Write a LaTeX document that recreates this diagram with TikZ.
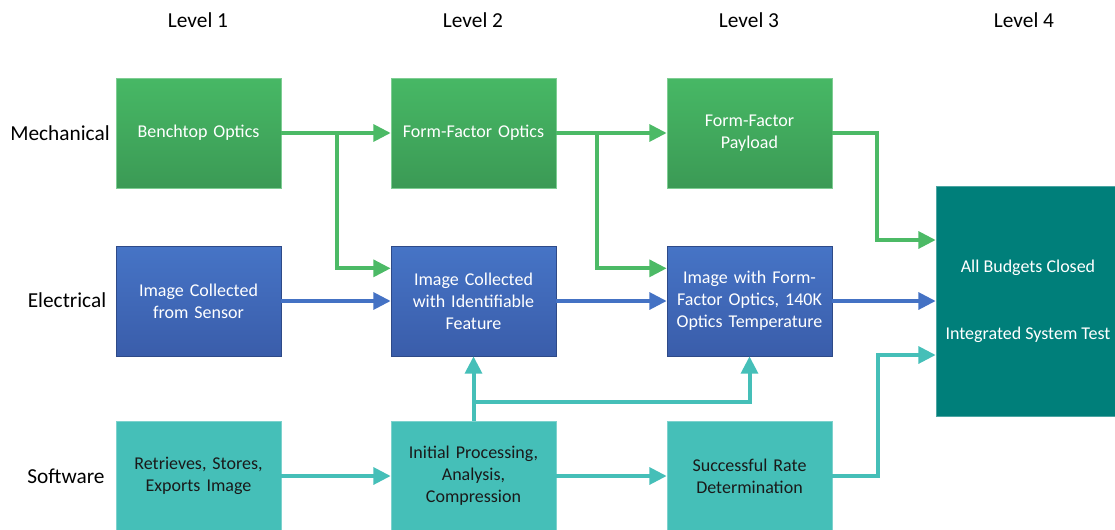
\documentclass[tikz,border=0pt]{standalone}
\usepackage{fontspec}
\setmainfont{Carlito}
\usetikzlibrary{arrows.meta}

\definecolor{mechtop}{HTML}{47B865}
\definecolor{mechbot}{HTML}{3B9A55}
\definecolor{electop}{HTML}{4674C6}
\definecolor{elecbot}{HTML}{3A5DAA}
\definecolor{softfill}{HTML}{45BFB8}
\definecolor{sysfill}{HTML}{007F7A}
\definecolor{mechline}{HTML}{4CBA66}
\definecolor{elecline}{HTML}{4472C4}
\definecolor{softline}{HTML}{45BFB8}
\definecolor{labeltext}{HTML}{1A1A1A}

\begin{document}
\begin{tikzpicture}[x=0.75pt,y=-0.75pt,
            every node/.style={align=center,font=\fontsize{13.5}{16.5}\selectfont},
            rowlabel/.style={font=\fontsize{16}{19}\selectfont,text=black},
            box/.style={minimum width=123.75pt,minimum height=82.5pt,inner sep=2pt,text width=118pt},
            mech/.style={box,top color=mechtop,bottom color=mechbot,draw=mechtop!70!white,thin,text=white},
            elec/.style={box,top color=electop,bottom color=elecbot,draw=elecbot!80!black,thin,text=white},
            soft/.style={box,fill=softfill,draw=softfill!70!white,thin,text=labeltext},
            system/.style={minimum width=138pt,minimum height=172.5pt,fill=sysfill,draw=sysfill!70!white,thin,text=white},
            to/.style={-{Triangle[length=13pt,width=12.5pt]},line width=3pt},
            gto/.style={to,draw=mechline},
            bto/.style={to,draw=elecline},
            tto/.style={to,draw=softline}]

            \path[use as bounding box,clip] (0,0) rectangle (1115,529);

            % column and row headings
            \foreach \lvl/\xpos in {1/198,2/473,3/749,4/1024}
                \node[rowlabel] (lvl\lvl) at (\xpos,20) {Level \lvl};
            \node[rowlabel] (mechlabel) at (60,133) {Mechanical};
            \node[rowlabel] (eleclabel) at (67,300) {Electrical};
            \node[rowlabel] (softlabel) at (66,476) {Software};

            % mechanical
            \node[mech] (bench) at (198.5,133) {Benchtop Optics};
            \node[mech] (ffoptics) at (473.5,133) {Form-Factor Optics};
            \node[mech] (payload) at (749.5,133) {Form-Factor\\Payload};

            % electrical
            \node[elec] (sensor) at (198.5,301) {Image Collected\\from Sensor};
            \node[elec] (feature) at (473.5,301) {Image Collected\\with Identifiable\\Feature};
            \node[elec] (optemp) at (749.5,301) {Image with Form-\\Factor Optics, 140K\\Optics Temperature};

            % software
            \node[soft] (retrieve) at (198.5,476) {Retrieves, Stores,\\Exports Image};
            \node[soft] (process) at (473.5,476) {Initial Processing,\\Analysis,\\Compression};
            \node[soft] (rate) at (749.5,476) {Successful Rate\\Determination};

            % level 4
            \node[system] (closed) at (1028,301) {All Budgets Closed\\[33.5pt]Integrated System Test};

            \coordinate (mbranch1) at (337,133);
            \coordinate (mbranch2) at (597,133);
            \coordinate (sbranch) at (473.5,402);

            \draw[gto] (bench) -- (ffoptics);
            \draw[gto] (ffoptics) -- (payload);
            \draw[gto] (mbranch1) |- ([yshift=24.5pt]feature.west);
            \draw[gto] (mbranch2) |- ([yshift=24.5pt]optemp.west);
            \draw[gto] (payload.east) -- ++(45,0) |- ([yshift=45.75pt]closed.west);

            \draw[bto] (sensor) -- (feature);
            \draw[bto] (feature) -- (optemp);
            \draw[bto] (optemp) -- (closed.west |- optemp.east);

            \draw[tto] (retrieve) -- (process);
            \draw[tto] (process) -- (rate);
            \draw[tto] (process.north) -- (feature.south);
            \draw[tto] (sbranch) -| (optemp.south);
            \draw[tto] (rate.east) -- ++(46,0) |- ([yshift=-40.5pt]closed.west);
        \end{tikzpicture}
\end{document}
